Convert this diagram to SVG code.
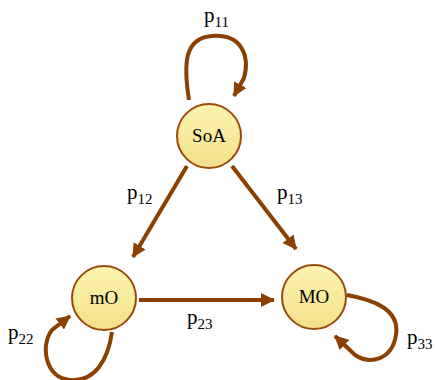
<svg xmlns="http://www.w3.org/2000/svg" width="435" height="380" viewBox="0 0 435 380">
<style>
.node{stroke:#9a4a0c;stroke-width:2;fill:url(#g)}
.nl{font-size:19px;fill:#000;text-anchor:middle}
.lb{font-size:21px;fill:#000}
.sub{font-size:15px}
.e{fill:none;stroke:#8b3f00;stroke-width:4;marker-end:url(#ah)}
</style>
<defs>
<linearGradient id="g" x1="0" y1="0" x2="0" y2="1">
<stop offset="0" stop-color="#fdf4b0"/>
<stop offset="1" stop-color="#f4e08a"/>
</linearGradient>
<marker id="ah" markerUnits="userSpaceOnUse" viewBox="0 0 14 14" markerWidth="14" markerHeight="14" refX="13" refY="7" orient="auto">
<path d="M0,0 L14,7 L0,14 Z" fill="#8b3f00"/>
</marker>
</defs>
<g id="connectors">
<path class="e" d="M187,166 L133,257"/>
<path class="e" d="M232,166 L296,249"/>
<path class="e" d="M139,300 L274,300"/>
<path class="e" d="M189,100 C183,62 185,38 212,36 C242,34 250,56 244,78 L234,96"/>
<path class="e" d="M112,332 C108,360 95,382 70,380 C45,378 40,345 52,330 L70,316"/>
<path class="e" d="M347,295 C375,300 400,310 396,335 C392,360 370,365 355,355 L335,336"/>
</g>
<g font-family="'Liberation Serif','Times New Roman','DejaVu Serif',serif">
<g id="SoA"><circle class="node" cx="209" cy="136" r="32"/><text class="nl" x="209" y="142">SoA</text></g>
<g id="mO"><circle class="node" cx="104" cy="298" r="32"/><text class="nl" x="104" y="304">mO</text></g>
<g id="MO"><circle class="node" cx="314" cy="297" r="32"/><text class="nl" x="314" y="303">MO</text></g>
<g id="labels">
<text class="lb" x="204" y="22">p<tspan class="sub" dy="5">11</tspan></text>
<text class="lb" x="127" y="199">p<tspan class="sub" dy="5">12</tspan></text>
<text class="lb" x="277" y="199">p<tspan class="sub" dy="5">13</tspan></text>
<text class="lb" x="187" y="324">p<tspan class="sub" dy="5">23</tspan></text>
<text class="lb" x="8" y="339">p<tspan class="sub" dy="5">22</tspan></text>
<text class="lb" x="407" y="344">p<tspan class="sub" dy="5">33</tspan></text>
</g>
</g>
</svg>
